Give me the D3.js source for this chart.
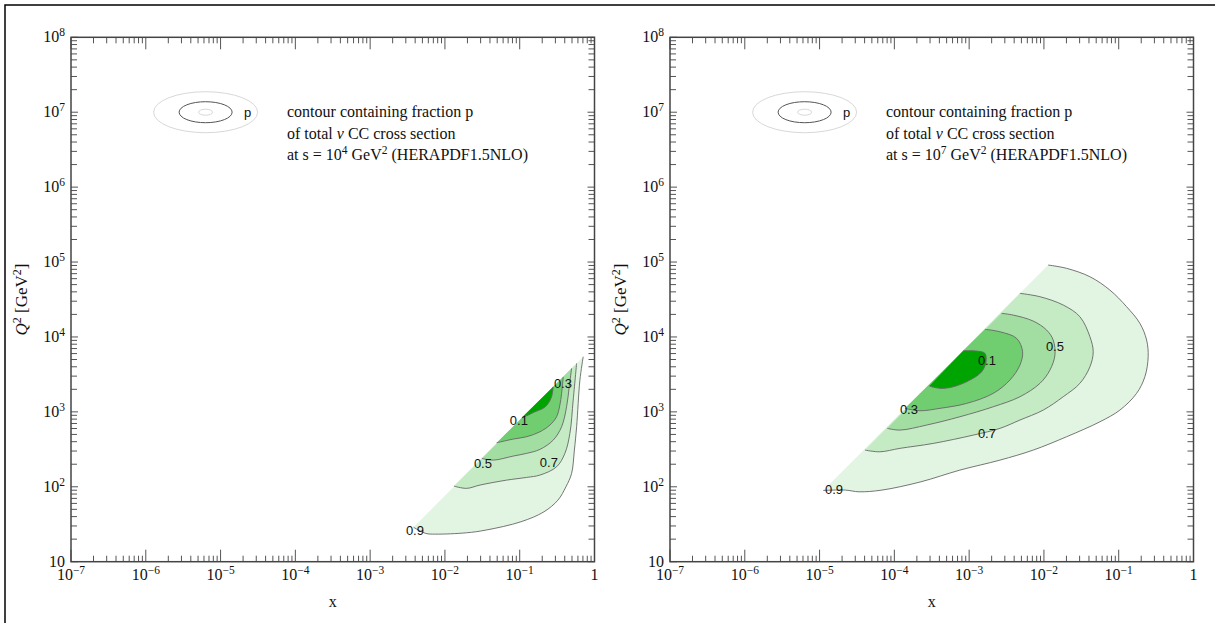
<!DOCTYPE html>
<html><head><meta charset="utf-8">
<script src="https://cdnjs.cloudflare.com/ajax/libs/d3/7.8.5/d3.min.js"></script>
<style>body{margin:0;background:#fff}svg{display:block}</style>
</head><body>
<svg id="chart" width="1215" height="623"></svg>
<script>
// ---------------- data ----------------
const xDecades = [-7, -6, -5, -4, -3, -2, -1, 0];   // log10 x tick labels
const yDecades = [1, 2, 3, 4, 5, 6, 7, 8];          // log10 Q^2 tick labels
const contourLevels = ["0.9", "0.7", "0.5", "0.3", "0.1"];
const sExponents = [4, 7];                          // s = 10^4, 10^7 GeV^2
const pdfName = "HERAPDF1.5NLO";

// contour boundaries, points are [log10 x, log10 Q^2]; first and last points lie on kinematic limit
const left09 = [[-2.42,1.46],[-2.258,1.378],[-2.127,1.368],[-1.711,1.386],[-1.452,1.422],[-0.984,1.533],[-0.676,1.666],[-0.489,1.822],[-0.382,2.0],[-0.306,2.179],[-0.269,2.49],[-0.239,2.801],[-0.195,3.425],[-0.151,3.736]];
const left07 = [[-1.88,2.009],[-1.71,1.979],[-1.532,2.023],[-1.175,2.089],[-0.908,2.125],[-0.73,2.156],[-0.507,2.267],[-0.396,2.446],[-0.329,2.713],[-0.285,3.157],[-0.239,3.648]];
const left05 = [[-1.505,2.379],[-1.354,2.356],[-1.087,2.41],[-0.908,2.446],[-0.73,2.499],[-0.552,2.623],[-0.44,2.801],[-0.373,3.068],[-0.338,3.335],[-0.306,3.581]];
const left03 = [[-1.309,2.587],[-1.087,2.637],[-0.908,2.668],[-0.73,2.734],[-0.596,2.824],[-0.507,2.935],[-0.463,3.091],[-0.44,3.247],[-0.418,3.467]];
const left01 = [[-0.961,2.935],[-0.908,2.948],[-0.797,3.001],[-0.686,3.047],[-0.619,3.113],[-0.574,3.202],[-0.552,3.335]];

const right09 = [[-4.951,1.951],[-4.655,1.956],[-4.473,1.933],[-4.166,1.956],[-3.644,2.067],[-3.123,2.223],[-2.588,2.356],[-2.143,2.49],[-1.697,2.668],[-1.251,2.868],[-0.984,3.024],[-0.761,3.247],[-0.65,3.469],[-0.606,3.736],[-0.627,3.959],[-0.717,4.182],[-0.894,4.403],[-1.118,4.626],[-1.385,4.804],[-1.697,4.916],[-1.943,4.96]];
const right07 = [[-4.393,2.49],[-4.193,2.467],[-3.925,2.513],[-3.48,2.579],[-2.945,2.69],[-2.588,2.78],[-2.321,2.891],[-2.009,3.024],[-1.742,3.202],[-1.519,3.381],[-1.385,3.602],[-1.341,3.802],[-1.385,4.003],[-1.519,4.27],[-1.742,4.426],[-2.053,4.537],[-2.321,4.582]];
const right05 = [[-4.095,2.78],[-3.925,2.757],[-3.568,2.824],[-3.123,2.935],[-2.678,3.068],[-2.321,3.202],[-2.053,3.381],[-1.92,3.558],[-1.853,3.758],[-1.876,3.959],[-1.964,4.092],[-2.143,4.212],[-2.41,4.292],[-2.566,4.315]];
const right03 = [[-3.858,3.047],[-3.658,3.015],[-3.39,3.047],[-3.033,3.113],[-2.678,3.247],[-2.455,3.425],[-2.321,3.625],[-2.285,3.802],[-2.365,3.981],[-2.588,4.069],[-2.789,4.102]];
const right01 = [[-3.533,3.344],[-3.39,3.314],[-3.212,3.335],[-2.989,3.425],[-2.833,3.535],[-2.775,3.665],[-2.789,3.781],[-2.9,3.812],[-3.079,3.816]];

const leftContours = [left09, left07, left05, left03, left01];
const rightContours = [right09, right07, right05, right03, right01];

// contour label anchors [label, log10 x, log10 Q^2]
const leftLabels = [["0.9",-2.401,1.422],["0.7",-0.61,2.33],["0.5",-1.492,2.316],["0.3",-0.422,3.385],["0.1",-1.011,2.891]];
const rightLabels = [["0.9",-4.807,1.969],["0.7",-2.762,2.717],["0.5",-1.853,3.879],["0.3",-3.805,3.037],["0.1",-2.762,3.691]];

// ---------------- styles / layout ----------------
const fillColors = ["#e2f5e2", "#c5ebc5", "#a2dea2", "#70ce70", "#00a400"];
const serif = "'Liberation Serif','Times New Roman',serif";
const sans = "'Liberation Sans',Arial,sans-serif";
const W = 523.5, H = 524.4;
const panels = [
  {x0: 71, y0: 37.3, s: sExponents[0], contours: leftContours, labels: leftLabels},
  {x0: 670, y0: 37.3, s: sExponents[1], contours: rightContours, labels: rightLabels}
];

const svg = d3.select("#chart");
svg.append("rect").attr("width",1215).attr("height",623).attr("fill","#fff");
// outer frame (top & left)
svg.append("path").attr("d","M5,623 V5 H1215").attr("fill","none").attr("stroke","#000").attr("stroke-width",1.5);

function supText(sel, base, exp, supSize, dy) {
  sel.append("tspan").text(base);
  sel.append("tspan").attr("dy", -dy).attr("font-size", supSize).text(exp);
}

panels.forEach(p => {
  const x = d3.scaleLog().domain([1e-7, 1]).range([p.x0, p.x0 + W]);
  const y = d3.scaleLog().domain([10, 1e8]).range([p.y0 + H, p.y0]);
  const g = svg.append("g");

  const line = d3.line().x(d => x(Math.pow(10, d[0]))).y(d => y(Math.pow(10, d[1]))).curve(d3.curveCatmullRom.alpha(0.5));

  // filled regions
  p.contours.forEach((c, i) => {
    g.append("path").attr("d", line(c) + "Z").attr("fill", fillColors[i]).attr("stroke", "none");
  });
  // contour lines
  p.contours.forEach(c => {
    g.append("path").attr("d", line(c)).attr("fill", "none").attr("stroke", "#666").attr("stroke-width", 0.9);
  });
  // contour labels
  p.labels.forEach(l => {
    g.append("text").attr("x", x(Math.pow(10, l[1]))).attr("y", y(Math.pow(10, l[2]))).attr("dy", "0.36em")
      .attr("text-anchor", "middle").attr("font-family", sans).attr("font-size", 13).attr("fill", "#111").text(l[0]);
  });

  // ticks
  const tickCol = "#555";
  const xt = [], yt = [];
  for (let k = -7; k < 0; k++) for (let m = 1; m <= 9; m++) xt.push({v: m * Math.pow(10, k), major: m === 1});
  xt.push({v: 1, major: true});
  for (let k = 1; k < 8; k++) for (let m = 1; m <= 9; m++) yt.push({v: m * Math.pow(10, k), major: m === 1});
  yt.push({v: 1e8, major: true});
  const yb = p.y0 + H, yT = p.y0, xl = p.x0, xr = p.x0 + W;
  xt.forEach(t => {
    const px = x(t.v), L = t.major ? 12 : 6;
    g.append("line").attr("x1", px).attr("x2", px).attr("y1", yb).attr("y2", yb - L).attr("stroke", tickCol);
    g.append("line").attr("x1", px).attr("x2", px).attr("y1", yT).attr("y2", yT + L).attr("stroke", tickCol);
  });
  yt.forEach(t => {
    const py = y(t.v), L = t.major ? 7 : 6;
    g.append("line").attr("x1", xl).attr("x2", xl + L).attr("y1", py).attr("y2", py).attr("stroke", tickCol);
    g.append("line").attr("x1", xr).attr("x2", xr - L).attr("y1", py).attr("y2", py).attr("stroke", tickCol);
  });
  // frame
  g.append("rect").attr("x", xl).attr("y", yT).attr("width", W).attr("height", H)
    .attr("fill", "none").attr("stroke", "#444").attr("stroke-width", 1.5);

  // x tick labels
  xDecades.forEach(e => {
    const t = g.append("text").attr("x", x(Math.pow(10, e))).attr("y", 580).attr("text-anchor", "middle")
      .attr("font-family", serif).attr("font-size", 16).attr("fill", "#111");
    if (e === 0) t.text("1");
    else supText(t, "10", "\u2212" + (-e), 11.5, 6);
  });
  // y tick labels
  yDecades.forEach(e => {
    const t = g.append("text").attr("x", xl - 6).attr("y", y(Math.pow(10, e)) + 5).attr("text-anchor", "end")
      .attr("font-family", serif).attr("font-size", 16).attr("fill", "#111");
    if (e === 1) t.text("10");
    else supText(t, "10", String(e), 11.5, 6);
  });

  // axis titles
  g.append("text").attr("x", (xl + xr) / 2).attr("y", 607).attr("text-anchor", "middle")
    .attr("font-family", serif).attr("font-size", 16).attr("fill", "#111").text("x");
  const yl = g.append("text").attr("transform", `translate(${xl - 44},${(yT + yb) / 2}) rotate(-90)`)
    .attr("text-anchor", "middle").attr("font-family", serif).attr("font-size", 17).attr("fill", "#111");
  yl.append("tspan").attr("font-style", "italic").text("Q");
  yl.append("tspan").attr("dy", -6).attr("font-size", 12).text("2");
  yl.append("tspan").attr("dy", 6).text(" [GeV");
  yl.append("tspan").attr("dy", -6).attr("font-size", 12).text("2");
  yl.append("tspan").attr("dy", 6).text("]");

  // legend
  const cx = x(Math.pow(10, -5.2)), cy = y(1e7);
  g.append("ellipse").attr("cx", cx).attr("cy", cy).attr("rx", 52).attr("ry", 20.5).attr("fill", "none").attr("stroke", "#d8d8d8");
  g.append("ellipse").attr("cx", cx).attr("cy", cy).attr("rx", 26.5).attr("ry", 10.5).attr("fill", "none").attr("stroke", "#555");
  g.append("ellipse").attr("cx", cx).attr("cy", cy).attr("rx", 7).attr("ry", 3).attr("fill", "none").attr("stroke", "#d8d8d8");
  g.append("text").attr("x", cx + 42).attr("y", cy + 5).attr("text-anchor", "middle").attr("font-family", sans)
    .attr("font-size", 13).attr("fill", "#111").text("p");
  const tx = xl + 216;
  const lt = (yy) => g.append("text").attr("x", tx).attr("y", yy).attr("font-family", serif).attr("font-size", 16).attr("fill", "#111");
  lt(117).text("contour containing fraction p");
  const l2 = lt(138.5);
  l2.append("tspan").text("of total ");
  l2.append("tspan").attr("font-style", "italic").text("\u03BD");
  l2.append("tspan").text(" CC cross section");
  const l3 = lt(160);
  l3.append("tspan").text("at s = 10");
  l3.append("tspan").attr("dy", -6).attr("font-size", 11.5).text(String(p.s));
  l3.append("tspan").attr("dy", 6).text(" GeV");
  l3.append("tspan").attr("dy", -6).attr("font-size", 11.5).text("2");
  l3.append("tspan").attr("dy", 6).text(" (" + pdfName + ")");
});
</script>
</body></html>
